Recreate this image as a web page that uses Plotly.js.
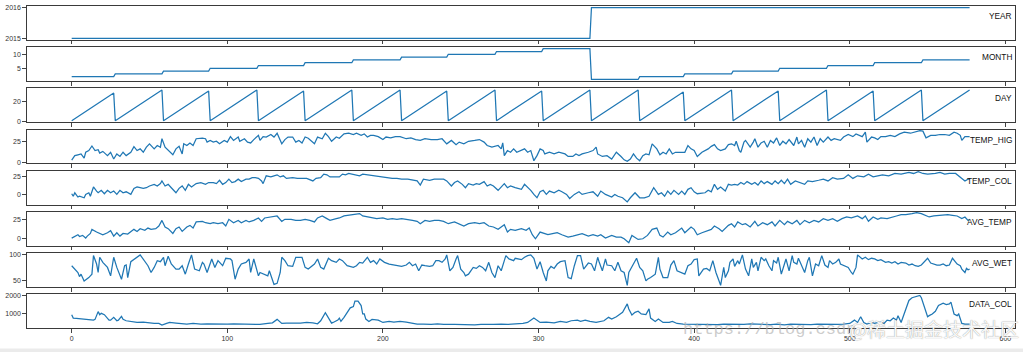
<!DOCTYPE html>
<html><head><meta charset="utf-8">
<script src="https://cdn.plot.ly/plotly-3.0.1.min.js"></script>
<style>html,body{margin:0;padding:0;background:#fff;overflow:hidden}#chart{width:1023px;height:352px}</style>
</head><body><div id="chart"></div>
<script>
// ---------- data (day index since 2015-02-01) ----------
const seriesNames = ['YEAR','MONTH','DAY','TEMP_HIG','TEMP_COL','AVG_TEMP','AVG_WET','DATA_COL'];
const xTickVals = [0,100,200,300,400,500,600];

const yearIdx = [0,333,334,577];
const yearVal = [2015,2015,2016,2016];

const monthIdx = [0,27,28,58,59,88,89,119,120,149,150,180,181,211,212,241,242,272,273,302,303,333,334,364,365,393,394,424,425,454,455,485,486,515,516,546,547,577];
const monthVal = [2,2,3,3,4,4,5,5,6,6,7,7,8,8,9,9,10,10,11,11,12,12,1,1,2,2,3,3,4,4,5,5,6,6,7,7,8,8];

const dayIdx = [0,27,28,58,59,88,89,119,120,149,150,180,181,211,212,241,242,272,273,302,303,333,334,364,365,393,394,424,425,454,455,485,486,515,516,546,547,577];
const dayVal = [1,28,1,31,1,30,1,31,1,30,1,31,1,31,1,30,1,31,1,30,1,31,1,31,1,29,1,31,1,30,1,31,1,30,1,31,1,31];

const tempHighIdx = [0,2,4,6,8,9,11,12,13,15,17,18,20,23,25,27,29,31,33,35,38,40,42,44,46,48,50,53,55,57,58,60,62,65,67,69,71,72,74,76,78,80,84,86,87,89,91,93,95,98,100,102,104,107,108,111,113,115,117,120,121,123,125,128,130,132,135,137,139,142,144,146,148,150,152,156,158,161,163,165,167,170,172,175,178,
181,183,186,188,190,192,194,197,200,202,205,208,211,215,218,221,224,227,231,235,238,241,244,247,249,252,255,259,262,265,267,270,274,276,277,278,280,282,284,286,289,291,293,295,297,299,301,303,304,307,310,313,317,319,322,324,326,328,332,335,337,338,341,344,347,349,350,353,355,357,359,361,363,365,367,369,371,373,376,378,380,382,384,386,388,391,
394,396,398,400,402,405,407,409,411,413,415,417,420,422,424,426,427,429,430,432,433,436,438,439,441,443,445,447,449,451,453,455,457,459,461,464,466,467,469,471,473,475,477,479,481,483,486,488,490,494,496,499,502,504,508,510,511,514,516,518,520,523,526,529,532,535,539,542,545,547,549,552,555,558,561,564,567,569,571,572,574,576,577];
const tempHigh = [2.8,8,9,10,5,12,14,17,19.4,14,15,11,13,8,12,4,10,7,12,8,12,18.6,14,16,12,18,22,16,20,18,28,18,14,9,16,19,10,22,20,23,20,28,28.6,28,24,26,24,25,22,26,24,30.5,26,30,25,28,24,23,27,32,26,30.5,30,33,30,34.5,22,27,30,30,24,26,23,30,28.6,22,30,28,34.5,30.5,25,30,28.6,33.7,34.5,
33,34.5,32,33.7,30,32,32,30.5,27,30,29,30.5,30.5,28,29,27,26,28,27,27,28,22,26,21,24,22,25,26,27,24,20,18,20,16,23,8,14,12,16,12,14,16,12,14,2,8,16,14,10,12,10,12,10,7,7,10,8,10,12,14,18,10,7,8,4,10,12,7,3,1.2,4,10,5,2,8,10,9,22,16,9,12,10,16,10,12,12,
12,20,16,14,7,12,14,16,19,21,16,14,16,21,22,20,25,14,12,24,26,18,24,28,18,23,25,18,26,23,29,20,25,22,27,20,30,22,26,18,28,24,30,20,28,24,30,26,28,26,30,33,30.5,33.7,30.5,35.7,24,30,29,27,30.5,30.5,32,30.5,33.7,35.7,34.5,35.7,37.7,37,29,32,32,33,33,32,35.7,34.5,32,26,30.5,30.5,30.5];

const tempLowIdx = [0,1,2,4,5,8,9,11,12,14,16,17,19,21,23,25,27,29,31,33,35,38,40,42,44,46,48,50,53,55,57,58,60,62,64,67,69,71,73,75,77,80,83,86,88,91,93,95,97,99,101,103,105,107,109,112,114,116,118,120,122,123,125,128,130,132,134,136,138,142,145,148,151,155,157,160,162,164,166,168,172,174,176,178,
182,185,187,190,193,196,200,203,206,209,212,216,219,222,224,226,230,233,236,239,241,244,246,248,251,253,255,258,260,262,265,267,269,271,274,276,278,280,282,285,289,291,293,295,297,299,301,303,305,307,310,313,315,318,320,323,326,328,332,335,338,340,343,347,349,351,354,357,359,362,365,368,371,374,377,379,381,383,385,387,390,
392,394,396,398,400,402,405,407,409,411,413,415,417,420,422,424,426,428,430,432,434,437,439,441,443,445,447,450,452,454,456,458,460,462,465,468,471,473,476,480,483,486,489,492,496,499,502,505,509,512,515,518,521,525,529,533,538,541,544,547,550,555,558,561,564,568,571,574,576,577];
const tempLow = [1.4,-2,2.7,-3,-2,-4,0.5,2.7,-2,10.5,5,2.7,6,1.4,6,2.7,5,0.5,6,2.7,4,0.5,8.6,10.5,9.5,8.6,9.5,11.8,14,11.8,15,18.6,11.8,14,9.5,2.7,8.6,11.8,6,14,10.5,15,16.4,14,16.4,16.4,15,19.5,14,16.4,21,16.4,17.7,21,17.7,21,21,23,23,22,18.6,15,25.5,24,25.5,26.8,24,25.5,22,23,22,22,22,18.6,22,23,27.7,26.8,24,24,24,27.7,26.8,28.6,
26.8,25.5,27.7,26.8,25.5,25.5,24,23,22,22,21,21,19.5,18.6,13,21,19.5,21,21,21,18.6,11.8,16.4,18.6,14,9.5,15,13,15,14,17.7,11.8,14,11.8,6,10.5,15,9.5,11.8,9.5,7.3,14,10.5,6,0.5,-4,4,6,0.5,5,2.7,6,4,0.5,-5,0.5,4,0.5,2.7,4,-2,5,0.5,-3,0.5,-2,-4,-9.5,-4,2.7,-4,-4,-2,9.5,0.5,2.7,-2,5,0.5,6,0.5,
5,0.5,7.3,9.5,4,1.4,2.7,2.7,6,4,14,7.3,10.5,5,14,13,14,13,16.4,14,17.7,14,16.4,13,18.6,15,17.7,14,18.6,15,19.5,15,21,14,18.6,16.4,14,18.6,17.7,19.5,21,18.6,23,21,22,26.8,22,25.5,24,27.7,24,25.5,26.8,25.5,28.6,27.7,30,28.6,31,28.6,27.7,28.6,30,27.7,28.6,28.6,24,18.6,21,21];

const avgTempIdx = [0,2,4,5,7,9,10,12,13,16,18,20,23,25,27,29,31,33,36,38,40,42,44,47,49,51,54,56,58,60,62,65,67,69,71,74,76,78,80,84,86,89,91,94,97,99,101,104,107,109,112,114,117,120,122,124,127,130,132,135,137,141,144,147,150,153,156,158,161,164,166,170,172,175,178,
182,185,187,190,193,196,200,203,206,209,212,216,219,222,224,227,230,233,236,239,242,246,249,252,255,259,262,265,268,271,274,276,278,280,282,285,289,292,294,296,298,301,304,306,309,312,315,319,322,325,328,332,335,338,340,343,347,350,353,355,358,360,364,367,370,373,376,378,380,383,385,388,
392,394,396,398,400,402,405,408,411,413,416,418,422,424,426,428,431,433,436,439,441,444,447,450,452,455,458,460,463,466,468,471,474,477,480,483,486,489,492,495,498,501,505,508,510,512,515,518,520,524,527,530,533,536,540,543,546,548,551,554,557,560,563,566,569,572,574,576,577];
const avgTemp = [0.9,3,5.3,3,4.4,0.9,3.5,7,12.3,8.8,7.5,5.3,7.9,10.5,3.5,7.9,3.5,7,6.1,8.8,12.3,9.6,13.2,11,14,12.3,13.2,16.7,24,15.4,13.2,7,13.2,15.4,9.6,15.4,17.5,14,22,22.8,21,19.7,21,19.7,21,16.7,25.4,21,24,21,24,22,24,27.2,22.8,27.2,28.5,29.8,29.8,22.8,25.4,25.4,24,24,25.4,24,22,27.2,29.8,26.3,24,26.3,27.2,29.8,30.7,
31.6,32.9,29.8,28.5,27.2,26.3,27.2,25.4,26.3,25.4,26.3,25.4,24,22.8,19.7,24,22.8,24,24,22.8,19.7,22,19.7,16.7,19.7,21,19.7,21,16.7,15.4,12.3,15.4,18.4,8.8,12.3,11,13.2,11,14,5.3,0,8.8,6.6,5.3,6.6,7.9,5.3,2.2,3.5,5.3,6.6,3.5,5.3,3.5,5.3,0.9,4.4,2.2,2.2,0,-5.3,4.4,-0.9,0,4.4,12.3,14,4.4,2.2,8.8,5.3,7.9,
14,7.9,12.3,15.4,12.3,5.3,7.9,9.6,12.3,16.7,13.2,9.6,17.5,19.7,15.4,22,18.4,19.7,15.4,22.8,16.7,21,18.4,22,16.7,24,18.4,22.8,19.7,24,18.4,24,21,24,22,26.3,24,26.3,22.8,26.3,28.5,27.2,29.8,26.3,29.8,22.8,28.5,25.4,27.2,26.3,28.5,29.8,31.6,31.6,32.9,34.2,32.9,30.7,28.5,29.8,30.7,30.7,31.6,30.7,29.8,26.3,28.5,24,25.4];

const avgWetIdx = [0,4,5,6,8,9,11,12,13,14,16,17,18,20,23,25,27,29,31,32,34,35,36,38,44,46,49,51,53,55,57,59,60,62,64,67,69,71,73,75,77,79,82,84,85,87,90,92,94,97,99,102,103,105,107,109,112,114,115,117,120,121,123,126,127,130,132,134,135,137,139,142,144,146,148,150,152,156,158,160,162,165,167,170,172,174,177,
181,183,185,187,190,192,194,196,198,201,204,207,210,212,215,217,219,221,223,225,227,230,232,234,236,238,240,241,243,245,247,248,250,252,253,255,258,260,262,264,266,268,270,272,274,276,278,279,281,284,285,289,291,293,295,297,299,301,303,305,306,308,310,312,314,317,319,321,323,325,327,329,332,334,336,338,339,341,343,344,347,349,351,353,355,357,358,361,363,365,367,369,370,372,375,377,378,380,383,385,387,389,
392,394,396,398,400,402,403,406,408,410,412,414,416,417,419,420,422,423,425,426,428,429,431,433,435,437,438,440,441,443,445,446,448,450,451,453,454,456,458,459,461,463,464,466,467,469,471,473,474,476,478,480,482,484,486,487,489,491,493,494,497,499,501,502,504,505,508,510,512,514,516,518,520,523,525,527,529,531,533,536,538,540,542,544,546,548,550,552,554,556,558,560,562,564,566,569,571,572,574,575,576,577];
const avgWet = [78.2,65.4,57.7,62.2,49.4,51.3,55.8,59,62.2,97.4,81.4,65.4,94.2,84.6,75,59,94.2,75,59,52.6,78.2,79.5,55.8,85.9,98.7,91,78.2,65.4,75,87.8,85.9,94.2,78.2,96.2,81.4,71.8,71.8,78.2,62.2,81.4,98.7,71.8,68.6,84.6,81.4,65.4,91,75,87.8,78.2,92.3,91,87.8,52.6,71.8,81.4,84.6,91,65.4,91,59,65.4,62.2,59,68.6,42.9,44.9,65.4,94.2,87.8,78.2,76.9,94.2,94.2,94.2,75,71.8,81.4,91,75,71.8,92.3,87.8,84.6,91,87.8,78.2,
75,78.2,84.6,83.3,94.2,84.6,87.8,81.4,91,84.6,81.4,79.5,78.2,76.9,79.5,84.6,78.2,81.4,68.6,79.5,78.2,76.9,78.2,87.8,87.8,84.6,91,98.7,68.6,75,91,97.4,71.8,65.4,59,62.2,75,73.1,78.2,75,68.6,84.6,65.4,55.8,78.2,68.6,87.8,97.4,91,87.8,92.3,89.7,94.2,97.4,98.7,92.3,71.8,85.9,65.4,49.4,68.6,76.9,73.1,81.4,85.9,87.8,55.8,53.8,78.2,97.4,97.4,71.8,83.3,81.4,68.6,94.2,84.6,68.6,91,79.5,78.2,68.6,84.6,68.6,65.4,41,65.4,83.3,92.3,75,68.6,49.4,52.6,55.8,62.2,94.2,71.8,55.8,55.8,79.5,87.8,68.6,
65.4,62.2,78.2,81.4,89.7,91,59,71.8,73.1,68.6,87.8,65.4,49.4,41,75,55.8,68.6,84.6,91,76.9,87.8,81.4,98.7,71.8,59,91,75,84.6,68.6,94.2,87.8,91,78.2,68.6,87.8,83.3,94.2,62.2,81.4,91,68.6,97.4,84.6,81.4,92.3,78.2,65.4,87.8,94.2,59,81.4,78.2,97.4,79.5,75,87.8,81.4,84.6,91,81.4,78.2,75,65.4,62.2,75,98.7,91,94.2,89.7,92.3,91,87.8,89.7,84.6,85.9,83.3,85.9,81.4,84.6,83.3,79.5,81.4,78.2,76.9,79.5,85.9,92.3,83.3,81.4,79.5,79.5,81.4,78.2,79.5,92.3,81.4,78.2,71.8,65.4,73.1,70.5,71.8];

const dataColIdx = [0,1,3,5,9,12,14,15,17,18,19,21,23,24,25,27,29,30,32,33,35,39,42,46,49,53,56,58,61,63,67,70,74,78,83,87,91,95,100,104,108,113,117,121,126,129,132,133,135,138,143,147,151,155,158,160,163,165,167,168,171,172,173,175,177,179,181,182,184,186,187,188,189,191,193,195,197,200,202,204,207,211,215,218,222,226,231,235,239,246,250,254,259,263,267,271,276,280,
290,293,297,299,301,305,310,314,318,321,325,327,330,333,337,342,345,347,350,354,357,358,360,362,364,366,369,371,372,375,377,380,384,386,389,393,398,402,406,411,415,419,423,428,432,436,441,445,449,453,458,462,466,471,475,479,483,488,492,496,500,503,505,507,509,511,514,516,518,520,522,524,526,528,530,531,533,534,536,538,540,543,545,546,548,550,551,553,555,557,560,562,564,565,567,569,570,572,574,577];
const dataCol = [964,780,760,745,730,710,670,710,1127,964,1036,964,780,670,670,820,636,670,870,710,636,600,545,563,527,490,490,400,490,545,510,490,454,490,454,472,454,472,454,472,454,472,454,436,490,527,710,636,490,510,490,510,545,527,472,636,1073,780,510,545,670,780,600,820,1090,1330,1400,1690,1690,1455,1000,1000,727,600,710,710,670,545,580,600,563,600,563,510,454,454,436,472,436,436,418,436,418,436,418,436,454,436,
490,545,780,670,545,563,527,600,545,636,670,600,670,600,545,636,820,727,855,1090,1546,1273,945,1090,1146,1000,964,1273,780,600,727,545,545,600,490,454,445,460,436,450,430,458,440,452,436,461,438,450,433,455,418,450,440,458,432,454,441,449,436,458,490,670,545,855,545,454,545,490,545,545,490,670,636,780,670,910,545,780,1218,1728,1874,1946,2000,1874,1364,855,910,1000,1146,1455,1582,1510,1546,1637,1000,910,1000,490,454,454];

const yTickVals = [[2015,2016],[5,10],[0,20],[0,25],[0,25],[0,25],[50,100],[1000,2000]];

// ---------- layout ----------
const W = 1023, H = 352;
const xs = [yearIdx, monthIdx, dayIdx, tempHighIdx, tempLowIdx, avgTempIdx, avgWetIdx, dataColIdx];
const ys = [yearVal, monthVal, dayVal, tempHigh, tempLow, avgTemp, avgWet, dataCol];
const yRanges = [[2014.95,2016.05],[0.45,12.55],[-0.5,32.5],[-1.2,38.8],[-13.2,32.2],[-9.2,35],[37.9,101.9],[235,2055]];
const xRange = [-28.85, 605.85];
const xDom = [26.8/W, 1014.5/W];
const tickFont = {family:'Liberation Sans, Arial, sans-serif', size:7, color:'#333'};

const traces = [];
const layout = {
  width:W, height:H, margin:{l:0,r:0,t:0,b:0},
  paper_bgcolor:'#fff', plot_bgcolor:'#fff', showlegend:false,
  annotations:[], shapes:[]
};
for (let k = 0; k < 8; k++) {
  const s = k === 0 ? '' : String(k+1);
  const top = 6 + 41.2*k, bot = top + 33.8;
  traces.push({x:xs[k], y:ys[k], xaxis:'x'+s, yaxis:'y'+s, type:'scatter', mode:'lines',
    line:{color:'#1f77b4', width:1.25}, hoverinfo:'skip'});
  layout['xaxis'+s] = {domain:xDom, range:xRange, anchor:'y'+s, showgrid:false, zeroline:false,
    showline:true, mirror:true, linecolor:'#3a3a3a', linewidth:1,
    ticks:'outside', ticklen:3.5, tickwidth:1, tickcolor:'#444',
    tickmode:'array', tickvals:xTickVals, showticklabels:(k===7), tickfont:tickFont};
  layout['yaxis'+s] = {domain:[1-bot/H, 1-top/H], range:yRanges[k], anchor:'x'+s, showgrid:false, zeroline:false,
    showline:true, mirror:true, linecolor:'#3a3a3a', linewidth:1,
    ticks:'outside', ticklen:3.5, tickwidth:1, tickcolor:'#444',
    tickmode:'array', tickvals:yTickVals[k], tickfont:tickFont};
  layout.annotations.push({text:seriesNames[k], xref:'paper', yref:'paper',
    x:1014/W, y:1-(top+bot)/2/H, xanchor:'right', yanchor:'bottom', showarrow:false,
    font:{family:'Liberation Sans, Arial, sans-serif', size:8.3, color:'#111'}});
}
// bottom page strip
layout.shapes.push({type:'rect', xref:'paper', yref:'paper', x0:0, x1:1, y0:0, y1:3.5/H, fillcolor:'#ebebeb', line:{width:0}, layer:'above'});
// watermarks
layout.annotations.push({text:'https://blog.csdn', xref:'paper', yref:'paper', x:681/W, y:1-341/H,
  xanchor:'left', yanchor:'bottom', showarrow:false,
  font:{family:'Liberation Mono, monospace', size:17, color:'rgba(175,175,175,0.65)'}});
layout.annotations.push({text:'@稀土掘金技术社区', xref:'paper', yref:'paper', x:1021/W, y:1-344/H,
  xanchor:'right', yanchor:'bottom', showarrow:false,
  font:{family:'Noto Sans CJK SC, sans-serif', size:19, color:'rgba(255,255,255,0.95)', shadow:'0px 0px 1px rgba(100,100,100,0.85)'}});

Plotly.newPlot('chart', traces, layout, {staticPlot:true, displayModeBar:false});
</script>
</body></html>
